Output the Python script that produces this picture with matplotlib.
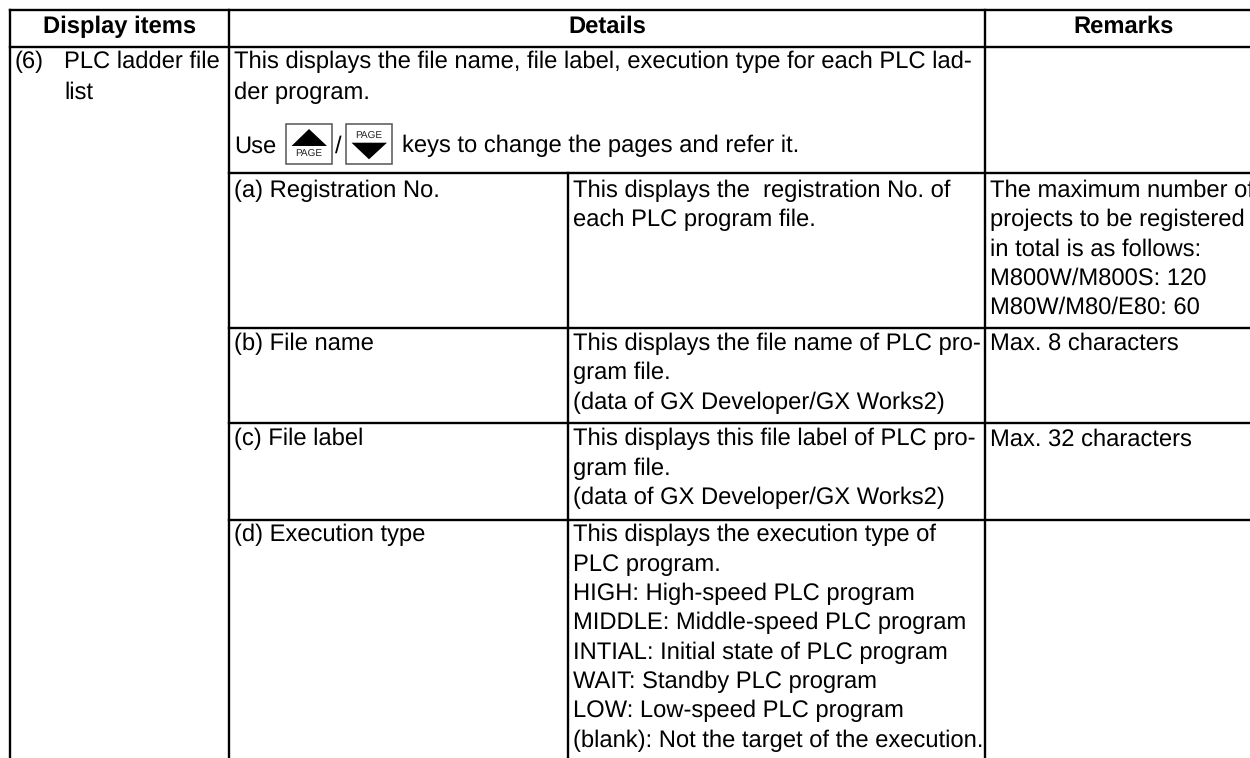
import matplotlib
matplotlib.use("Agg")
import matplotlib.pyplot as plt
from matplotlib.patches import Polygon, Rectangle

plt.rcParams['font.family'] = ['Liberation Sans', 'DejaVu Sans']
plt.rcParams['text.hinting'] = 'none'

headers = ["Display items", "Details", "Remarks"]
item_no = "(6)"
item_name = ["PLC ladder file", "list"]
intro = ["This displays the file name, file label, execution type for each PLC lad-",
         "der program."]
use_left = "Use"
use_right = "keys to change the pages and refer it."
key_label = "PAGE"

sub_items = ["(a) Registration No.", "(b) File name", "(c) File label", "(d) Execution type"]
sub_details = [
    ["This displays the  registration No. of", "each PLC program file."],
    ["This displays the file name of PLC pro-", "gram file.", "(data of GX Developer/GX Works2)"],
    ["This displays this file label of PLC pro-", "gram file.", "(data of GX Developer/GX Works2)"],
    ["This displays the execution type of", "PLC program.", "HIGH: High-speed PLC program",
     "MIDDLE: Middle-speed PLC program", "INTIAL: Initial state of PLC program",
     "WAIT: Standby PLC program", "LOW: Low-speed PLC program",
     "(blank): Not the target of the execution."],
]
sub_remarks = [
    ["The maximum number of", "projects to be registered", "in total is as follows:",
     "M800W/M800S: 120", "M80W/M80/E80: 60"],
    ["Max. 8 characters"],
    ["Max. 32 characters"],
    [],
]

col_x = [10, 228.7, 568.3, 985]
row_y = [10, 47, 172.5, 327.7, 423.3, 520]
sub_base = [197, 350, 445.5, 541.5]
line_step = 29.3
fs = 17.1

fig = plt.figure(figsize=(12.5, 7.58), dpi=100)
ax = fig.add_axes([0, 0, 1, 1])
ax.set_xlim(0, 1250)
ax.set_ylim(758, 0)
ax.axis("off")


def block(x, y, lines, step=line_step):
    for i, s in enumerate(lines):
        ax.text(x, y + i * step, s, fontsize=fs, va="baseline", ha="left", color="black")


# grid
lw = 1.7
ax.plot([10, 1250], [row_y[0], row_y[0]], color="black", lw=lw)
ax.plot([10, 1250], [row_y[1], row_y[1]], color="black", lw=lw)
for y in row_y[2:]:
    ax.plot([col_x[1], 1250], [y, y], color="black", lw=lw)
ax.plot([col_x[0], col_x[0]], [10, 758], color="black", lw=lw)
ax.plot([col_x[1], col_x[1]], [10, 758], color="black", lw=lw)
ax.plot([col_x[2], col_x[2]], [row_y[2], 758], color="black", lw=lw)
ax.plot([col_x[3], col_x[3]], [10, 758], color="black", lw=lw)

# header row
ax.text(120, 32.7, headers[0], fontsize=fs, fontweight="bold", ha="center", va="baseline")
ax.text(607, 32.7, headers[1], fontsize=fs, fontweight="bold", ha="center", va="baseline")
ax.text(1123.5, 32.7, headers[2], fontsize=fs, fontweight="bold", ha="center", va="baseline")

ax.text(15, 68, item_no, fontsize=fs, va="baseline", color="black")
block(64, 68, item_name, step=31)
block(234, 68, intro, step=31)

# page keys
ax.text(234, 152.5, use_left, fontsize=fs, va="baseline", color="black")
for x0, up in [(286, True), (346, False)]:
    ax.add_patch(Rectangle((x0, 123.5), 46, 40.5, fc="white", ec="#555555", lw=1.1))
    if up:
        tri = [(x0 + 5.5, 146), (x0 + 41, 146), (x0 + 23, 129)]
        ty = 157
    else:
        tri = [(x0 + 5.5, 142.7), (x0 + 41, 142.7), (x0 + 23, 159.3)]
        ty = 139
    ax.add_patch(Polygon(tri, fc="black", ec="none"))
    ax.text(x0 + 23, ty, key_label, fontsize=7.2, ha="center", va="baseline", color="#222222")
ax.text(335, 152.5, "/", fontsize=fs, va="baseline", color="black")
ax.text(402, 152.5, use_right, fontsize=fs, va="baseline", color="black")

# sub rows
for i in range(4):
    y = sub_base[i]
    block(234, y, [sub_items[i]])
    block(573, y, sub_details[i])
    block(990, y, sub_remarks[i])

fig.savefig("out.png", dpi=100)
